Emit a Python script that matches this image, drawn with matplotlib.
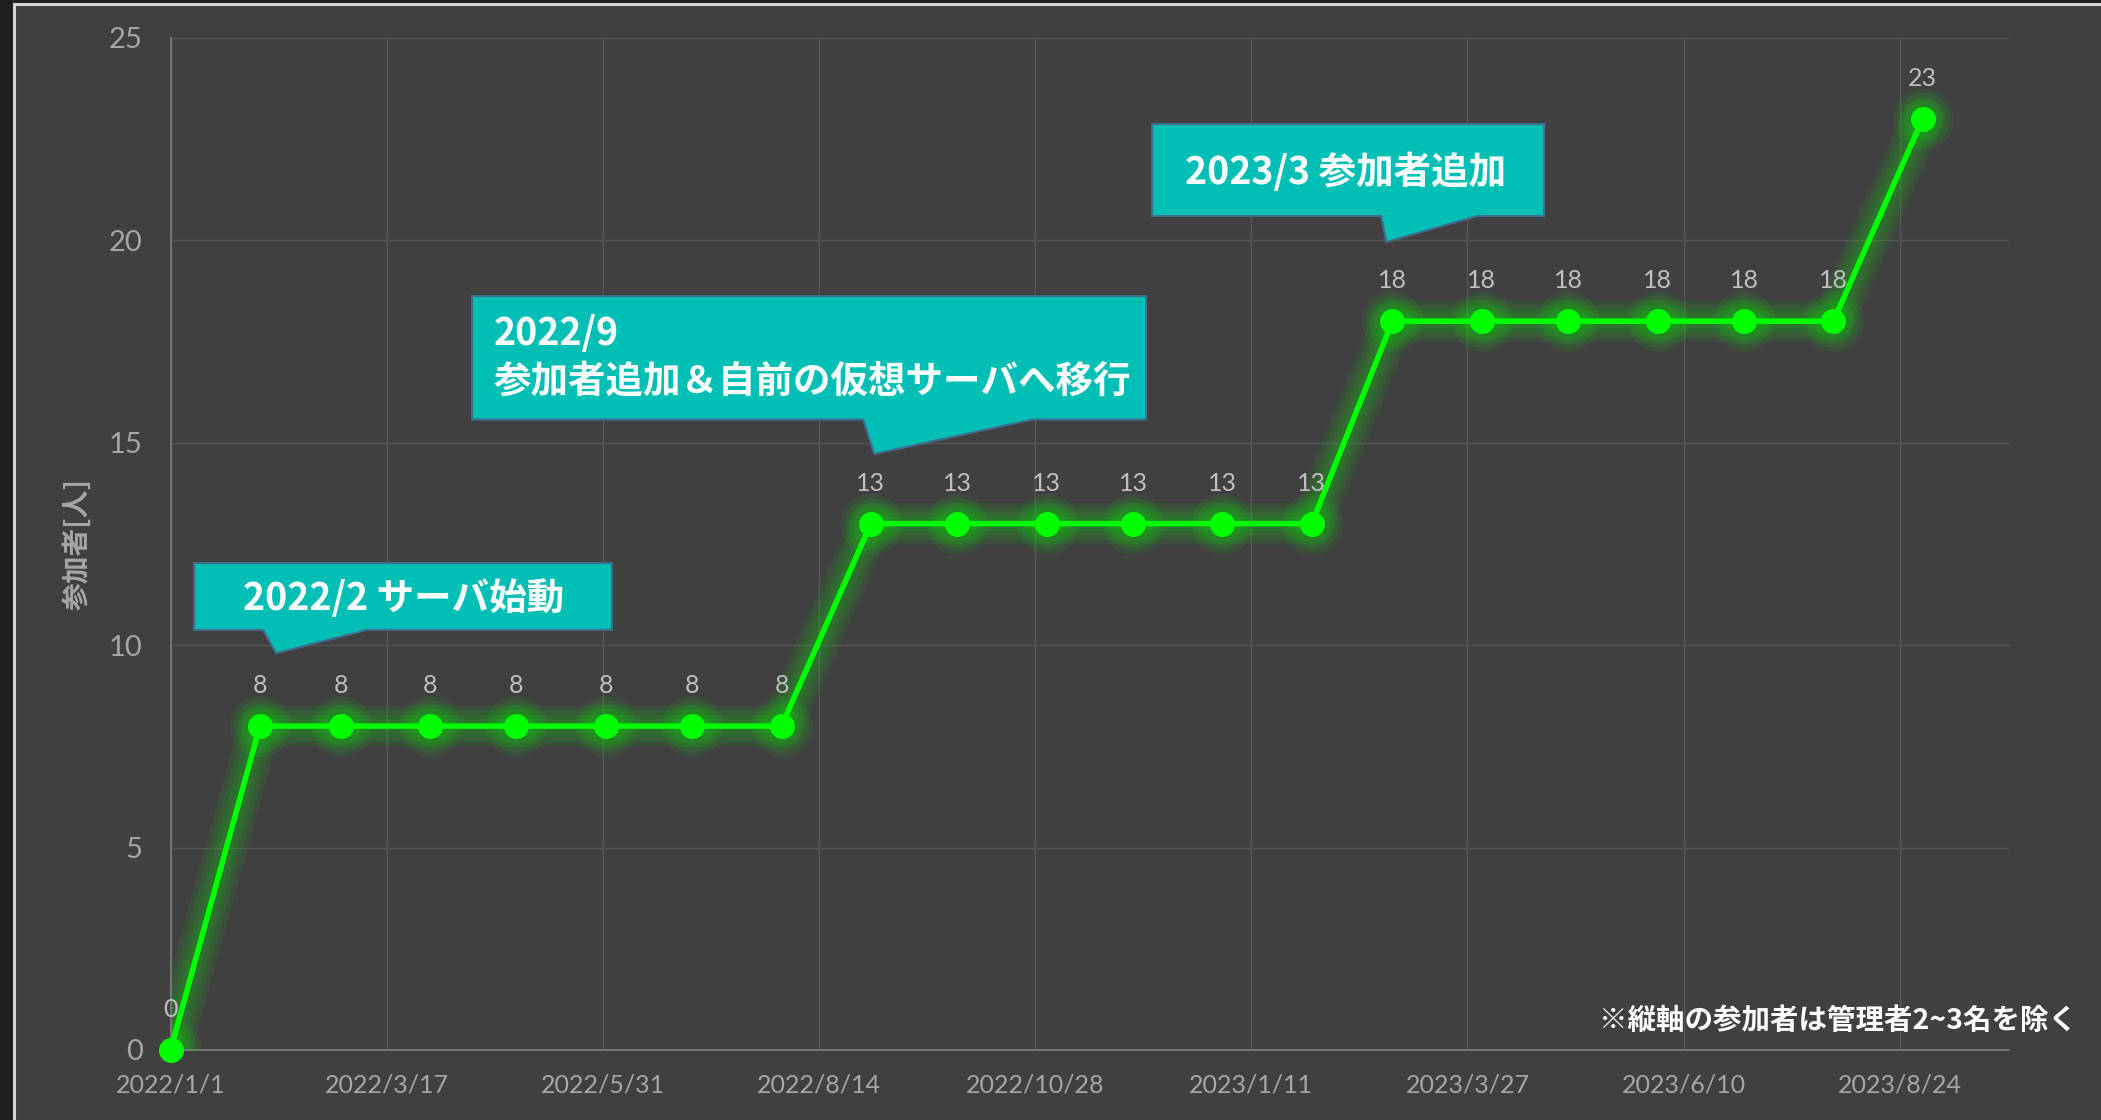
import datetime as dt
import matplotlib
matplotlib.use('Agg')
import matplotlib.pyplot as plt
from matplotlib.patches import Polygon, Rectangle

# participants counted on the first day of each month
months = ['2022-01', '2022-02', '2022-03', '2022-04', '2022-05', '2022-06', '2022-07',
          '2022-08', '2022-09', '2022-10', '2022-11', '2022-12', '2023-01', '2023-02',
          '2023-03', '2023-04', '2023-05', '2023-06', '2023-07', '2023-08', '2023-09']
participants = [0, 8, 8, 8, 8, 8, 8, 8, 13, 13, 13, 13, 13, 13, 18, 18, 18, 18, 18, 18, 23]

tick_dates = ['2022-01-01', '2022-03-17', '2022-05-31', '2022-08-14', '2022-10-28',
              '2023-01-11', '2023-03-27', '2023-06-10', '2023-08-24']
tick_labels = ['2022/1/1', '2022/3/17', '2022/5/31', '2022/8/14', '2022/10/28',
               '2023/1/11', '2023/3/27', '2023/6/10', '2023/8/24']
y_ticks = [0, 5, 10, 15, 20, 25]
x_range = ['2022-01-01', '2023-10-01']

y_label = '参加者[人]'
callout_texts = ['2022/2 サーバ始動',
                 '2022/9\n参加者追加＆自前の仮想サーバへ移行',
                 '2023/3 参加者追加']
note = '※縦軸の参加者は管理者2~3名を除く'

BG = '#404040'
GREEN = '#00ff00'
TEAL = '#02bfb6'
CJK = ['Noto Sans CJK JP', 'DejaVu Sans']
NUM = ['Lato', 'DejaVu Sans']


def to_date(s):
    return dt.datetime.strptime(s, '%Y-%m-%d')


dates = [to_date(m + '-01') for m in months]

fig = plt.figure(figsize=(21.01, 11.2), dpi=100)
fig.patch.set_facecolor('#1e1e1e')
# chart area frame (light border on the top and left only, like the screenshot)
frame = Rectangle((13.5 / 2101, -0.1), 1.2, 1.1 - 4.5 / 1120, transform=fig.transFigure,
                  facecolor=BG, edgecolor='#d4d4d4', lw=2.2, zorder=-5)
fig.add_artist(frame)

ax = fig.add_axes([0.0812, 0.0625, 0.8751, 0.9038])
ax.set_facecolor(BG)

ax.set_xlim(to_date(x_range[0]), to_date(x_range[1]))
ax.set_ylim(0, 25)
ax.set_xticks([to_date(d) for d in tick_dates])
ax.set_xticklabels(tick_labels, family=NUM, fontsize=18, color='#a6a6a6')
ax.set_yticks(y_ticks)
ax.set_yticklabels([str(v) for v in y_ticks], family=NUM, fontsize=21, color='#a6a6a6')
ax.tick_params(axis='x', length=0, pad=17)
ax.tick_params(axis='y', length=0, pad=20)
ax.grid(True, color='#555555', lw=1.0)
ax.set_axisbelow(True)
for side in ['top', 'right']:
    ax.spines[side].set_visible(False)
for side in ['left', 'bottom']:
    ax.spines[side].set_color('#7f7f7f')
    ax.spines[side].set_linewidth(1.2)

ax.set_ylabel(y_label, family=CJK, fontsize=20, fontweight='bold', color='#a6a6a6',
              va='center')
ax.yaxis.set_label_coords(-0.0509, 0.5)

# soft glow under the series
for lw, ms in [(30, 44), (23, 38), (16, 32), (10, 27)]:
    ax.plot(dates, participants, color=GREEN, lw=lw, alpha=0.075, solid_capstyle='round',
            solid_joinstyle='round', zorder=2)
    ax.plot(dates, participants, ls='none', marker='o', ms=ms, mew=0, color=GREEN,
            alpha=0.075, zorder=2)
ax.plot(dates, participants, color=GREEN, lw=4, marker='o', ms=18, mew=0, zorder=3,
        clip_on=False)

for d, v in zip(dates, participants):
    ax.annotate(str(v), (d, v), xytext=(0, 29), textcoords='offset points',
                ha='center', va='center', family=NUM, fontsize=18, color='#bfbfbf', zorder=4)

# callout boxes, in axes fractions: box (left, right, bottom, top), tail (base left, base right, tip)
boxes = [
    ((0.0128, 0.240, 0.415, 0.481), (0.0503, 0.1069, (0.0574, 0.392))),
    ((0.1640, 0.5306, 0.6228, 0.7448), (0.3767, 0.4686, (0.3827, 0.5888))),
    ((0.5339, 0.7471, 0.8239, 0.9148), (0.6585, 0.7107, (0.6612, 0.7982))),
]
for (l, r, b, t), (bl, br, tip) in boxes:
    pts = [(l, t), (r, t), (r, b), (br, b), tip, (bl, b), (l, b)]
    ax.add_patch(Polygon(pts, closed=True, transform=ax.transAxes, facecolor=TEAL,
                         edgecolor='#3f6e8e', lw=1.5, zorder=5, clip_on=False))

txt = dict(transform=ax.transAxes, family=CJK, fontsize=27, fontweight='bold',
           color='white', zorder=6)
ax.text(0.1265, 0.4465, callout_texts[0], ha='center', va='center', **txt)
line1, line2 = callout_texts[1].split('\n')
ax.text(0.1755, 0.7083, line1, ha='left', va='center', **txt)
ax.text(0.1755, 0.6609, line2, ha='left', va='center', **txt)
ax.text(0.6393, 0.8673, callout_texts[2], ha='center', va='center', **txt)

fig.text(0.9886, 0.0885, note, ha='right', va='center', family=CJK, fontsize=20.5,
         fontweight='bold', color='white')

fig.savefig('out.png', dpi=100, facecolor=fig.get_facecolor())
